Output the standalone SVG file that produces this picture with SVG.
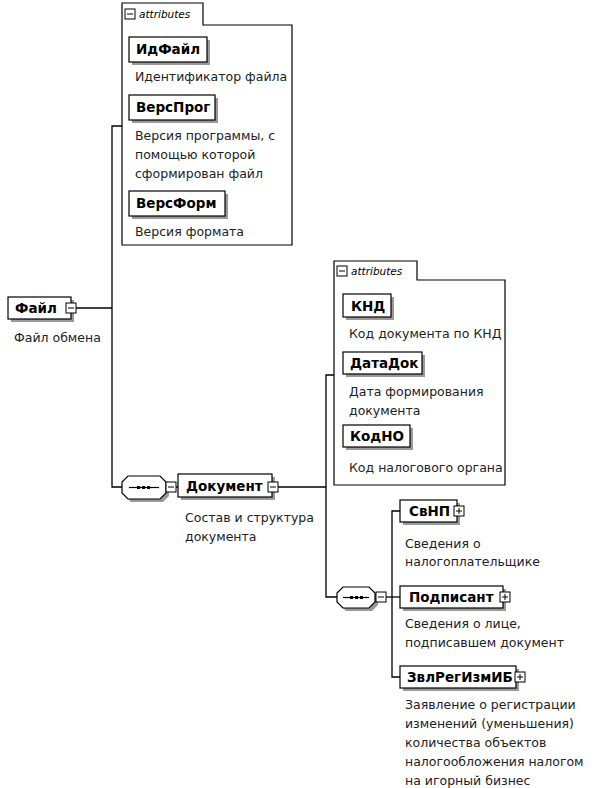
<svg xmlns="http://www.w3.org/2000/svg" width="595" height="788" viewBox="0 0 595 788">
<style>
.bg{fill:#fff}
.box{fill:#fff;stroke:#000;stroke-width:1.2}
.sh{fill:#9a9a9a}
.ttl{font-family:"DejaVu Sans",sans-serif;font-weight:bold;font-size:13.5px;fill:#000}
.dsc{font-family:"DejaVu Sans",sans-serif;font-size:12.5px;fill:#222}
.att{font-family:"DejaVu Sans",sans-serif;font-style:italic;font-size:10.5px;fill:#000}
.frame{fill:none;stroke:#000;stroke-width:1.2}
.ln{fill:none;stroke:#000;stroke-width:1.3}
.ic{fill:#fff;stroke:#000;stroke-width:1}
</style>
<defs>
<g id="minus"><rect class="ic" x="0" y="0" width="10" height="10"/><line x1="2" y1="5" x2="8" y2="5" stroke="#000" stroke-width="1"/></g>
<g id="plus"><rect class="ic" x="0" y="0" width="10" height="10"/><line x1="2" y1="5" x2="8" y2="5" stroke="#000" stroke-width="1"/><line x1="5" y1="2" x2="5" y2="8" stroke="#000" stroke-width="1"/></g>
</defs>
<rect class="bg" x="0" y="0" width="595" height="788"/>

<g id="connectors">
<polyline class="ln" points="76,308 112,308"/>
<polyline class="ln" points="122,126 112,126 112,487 122,487"/>
<polyline class="ln" points="176,487 178,487"/>
<polyline class="ln" points="278,487 326,487"/>
<polyline class="ln" points="334,375 326,375 326,597 337,597"/>
<polyline class="ln" points="386,597 400,597"/>
<polyline class="ln" points="400,511 392,511 392,677 400,677"/>
</g>

<g id="attributes1">
<path class="frame" d="M122,245 V3 H203 V25 H292 V245 Z"/>
<use href="#minus" x="125" y="9"/>
<text class="att" x="139" y="18">attributes</text>
</g>

<g id="node-IdFajl">
<rect class="sh" x="132" y="40" width="78" height="25"/>
<rect class="box" x="129" y="37" width="78" height="25"/>
<text class="ttl" x="136" y="54">ИдФайл</text>
<text class="dsc" x="135" y="81">Идентификатор файла</text>
</g>

<g id="node-VersProg">
<rect class="sh" x="132" y="98" width="86" height="25"/>
<rect class="box" x="129" y="95" width="86" height="25"/>
<text class="ttl" x="136" y="112">ВерсПрог</text>
<text class="dsc" x="135" y="140">Версия программы, с</text>
<text class="dsc" x="135" y="159">помощью которой</text>
<text class="dsc" x="135" y="178">сформирован файл</text>
</g>

<g id="node-VersForm">
<rect class="sh" x="132" y="194" width="96" height="25"/>
<rect class="box" x="129" y="191" width="96" height="25"/>
<text class="ttl" x="136" y="208">ВерсФорм</text>
<text class="dsc" x="135" y="236">Версия формата</text>
</g>

<g id="node-Fajl">
<rect class="sh" x="11" y="300" width="63" height="22"/>
<rect class="box" x="8" y="297" width="63" height="22"/>
<text class="ttl" x="15" y="313">Файл</text>
<use href="#minus" x="66" y="303"/>
<text class="dsc" x="14" y="342">Файл обмена</text>
</g>

<g id="seq1">
<path class="sh" d="M131,479 H163 L169,485 V496 L163,502 H131 L125,496 V485 Z"/>
<path class="box" d="M128,476 H160 L166,482 V493 L160,499 H128 L122,493 V482 Z"/>
<line x1="129" y1="487.5" x2="159" y2="487.5" stroke="#000" stroke-width="1.2"/>
<rect x="137" y="486" width="3" height="3" fill="#000"/>
<rect x="142" y="486" width="3" height="3" fill="#000"/>
<rect x="147" y="486" width="3" height="3" fill="#000"/>
<use href="#minus" x="166" y="482"/>
</g>

<g id="node-Dokument">
<rect class="sh" x="181" y="477" width="94" height="23"/>
<rect class="box" x="178" y="474" width="94" height="23"/>
<text class="ttl" x="186" y="491">Документ</text>
<use href="#minus" x="268" y="482"/>
<text class="dsc" x="185" y="522">Состав и структура</text>
<text class="dsc" x="185" y="541">документа</text>
</g>

<g id="attributes2">
<path class="frame" d="M334,485 V261 H417 V280 H505 V485 Z"/>
<use href="#minus" x="337" y="266"/>
<text class="att" x="351" y="275">attributes</text>
</g>

<g id="node-KND">
<rect class="sh" x="346" y="297" width="48" height="23"/>
<rect class="box" x="343" y="294" width="48" height="23"/>
<text class="ttl" x="351" y="311">КНД</text>
<text class="dsc" x="349" y="338">Код документа по КНД</text>
</g>

<g id="node-DataDok">
<rect class="sh" x="346" y="355" width="79" height="22"/>
<rect class="box" x="343" y="352" width="79" height="22"/>
<text class="ttl" x="350" y="368">ДатаДок</text>
<text class="dsc" x="349" y="396">Дата формирования</text>
<text class="dsc" x="349" y="415">документа</text>
</g>

<g id="node-KodNO">
<rect class="sh" x="346" y="428" width="67" height="22"/>
<rect class="box" x="343" y="425" width="67" height="22"/>
<text class="ttl" x="350" y="441">КодНО</text>
<text class="dsc" x="349" y="472">Код налогового органа</text>
</g>

<g id="seq2">
<path class="sh" d="M346,590 H372 L378,596 V605 L372,611 H346 L340,605 V596 Z"/>
<path class="box" d="M343,587 H369 L375,593 V602 L369,608 H343 L337,602 V593 Z"/>
<line x1="343" y1="597.5" x2="369" y2="597.5" stroke="#000" stroke-width="1.2"/>
<rect x="350" y="596" width="3" height="3" fill="#000"/>
<rect x="355" y="596" width="3" height="3" fill="#000"/>
<rect x="360" y="596" width="3" height="3" fill="#000"/>
<use href="#minus" x="376" y="592"/>
</g>

<g id="node-SvNP">
<rect class="sh" x="403" y="503" width="57" height="22"/>
<rect class="box" x="400" y="500" width="57" height="22"/>
<text class="ttl" x="409" y="516">СвНП</text>
<use href="#plus" x="454" y="506"/>
<text class="dsc" x="405" y="548">Сведения о</text>
<text class="dsc" x="405" y="566">налогоплательщике</text>
</g>

<g id="node-Podpisant">
<rect class="sh" x="403" y="589" width="103" height="22"/>
<rect class="box" x="400" y="586" width="103" height="22"/>
<text class="ttl" x="409" y="602">Подписант</text>
<use href="#plus" x="500" y="592"/>
<text class="dsc" x="405" y="628">Сведения о лице,</text>
<text class="dsc" x="405" y="647">подписавшем документ</text>
</g>

<g id="node-ZvlRegIzmIB">
<rect class="sh" x="403" y="669" width="116" height="22"/>
<rect class="box" x="400" y="666" width="116" height="22"/>
<text class="ttl" x="407" y="682">ЗвлРегИзмИБ</text>
<use href="#plus" x="515" y="672"/>
<text class="dsc" x="405" y="709">Заявление о регистрации</text>
<text class="dsc" x="405" y="728">изменений (уменьшения)</text>
<text class="dsc" x="405" y="747">количества объектов</text>
<text class="dsc" x="405" y="766">налогообложения налогом</text>
<text class="dsc" x="405" y="785">на игорный бизнес</text>
</g>
</svg>
